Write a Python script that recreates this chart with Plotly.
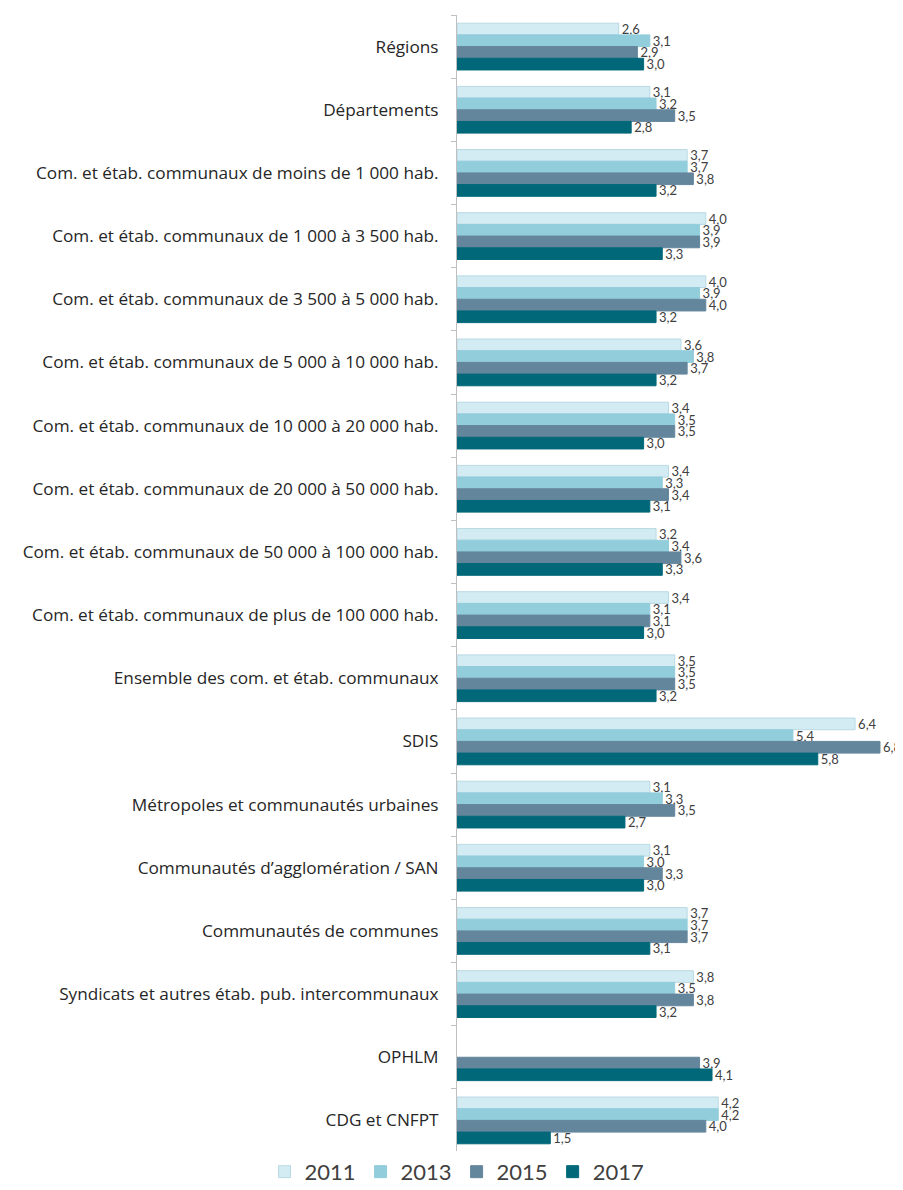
import plotly.graph_objects as go

categories = [
    "Régions",
    "Départements",
    "Com. et étab. communaux de moins de 1 000 hab.",
    "Com. et étab. communaux de 1 000 à 3 500 hab.",
    "Com. et étab. communaux de 3 500 à 5 000 hab.",
    "Com. et étab. communaux de 5 000 à 10 000 hab.",
    "Com. et étab. communaux de 10 000 à 20 000 hab.",
    "Com. et étab. communaux de 20 000 à 50 000 hab.",
    "Com. et étab. communaux de 50 000 à 100 000 hab.",
    "Com. et étab. communaux de plus de 100 000 hab.",
    "Ensemble des com. et étab. communaux",
    "SDIS",
    "Métropoles et communautés urbaines",
    "Communautés d’agglomération / SAN",
    "Communautés de communes",
    "Syndicats et autres étab. pub. intercommunaux",
    "OPHLM",
    "CDG et CNFPT",
]

v2011 = [2.6, 3.1, 3.7, 4.0, 4.0, 3.6, 3.4, 3.4, 3.2, 3.4, 3.5, 6.4, 3.1, 3.1, 3.7, 3.8, None, 4.2]
v2013 = [3.1, 3.2, 3.7, 3.9, 3.9, 3.8, 3.5, 3.3, 3.4, 3.1, 3.5, 5.4, 3.3, 3.0, 3.7, 3.5, None, 4.2]
v2015 = [2.9, 3.5, 3.8, 3.9, 4.0, 3.7, 3.5, 3.4, 3.6, 3.1, 3.5, 6.8, 3.5, 3.3, 3.7, 3.8, 3.9, 4.0]
v2017 = [3.0, 2.8, 3.2, 3.3, 3.2, 3.2, 3.0, 3.1, 3.3, 3.0, 3.2, 5.8, 2.7, 3.0, 3.1, 3.2, 4.1, 1.5]

series = [
    ("2011", v2011, "#D3EBF2", "#B9D9E4"),
    ("2013", v2013, "#92CDDC", "#92CDDC"),
    ("2015", v2015, "#64869D", "#64869D"),
    ("2017", v2017, "#006879", "#006879"),
]

def fmt(v):
    return "" if v is None else f"{v:.1f}".replace(".", ",")

fig = go.Figure()
for name, vals, color, line in series:
    fig.add_trace(go.Bar(
        name=name, y=categories, x=vals, orientation="h",
        marker=dict(color=color, line=dict(color=line, width=1)),
        text=[fmt(v) for v in vals], textposition="outside",
        constraintext="none",
        textfont=dict(size=13, color="#404040", family="Lato"),
        cliponaxis=False,
    ))

fig.update_layout(
    width=895, height=1182,
    margin=dict(l=449, r=0, t=7, b=38, autoexpand=False),
    barmode="group", bargap=0.26, bargroupgap=0,
    plot_bgcolor="white", paper_bgcolor="white",
    font=dict(family="Open Sans", color="#262626"),
    showlegend=True,
    legend=dict(orientation="h", x=0.0, xanchor="center", y=0.001, yanchor="top",
                font=dict(size=22, color="#404040", family="Lato"), traceorder="normal",
                itemwidth=30),
)
fig.update_xaxes(range=[0, 7.17], visible=False, automargin=False)
fig.update_yaxes(autorange="reversed", showline=True, linecolor="#BFBFBF", linewidth=1,
                 ticks="outside", ticklen=5, tickcolor="#BFBFBF", tickson="boundaries",
                 ticklabelstandoff=14, tickfont=dict(size=17.2, color="#262626"),
                 showgrid=False, automargin=False)

fig.write_html("out.html")
